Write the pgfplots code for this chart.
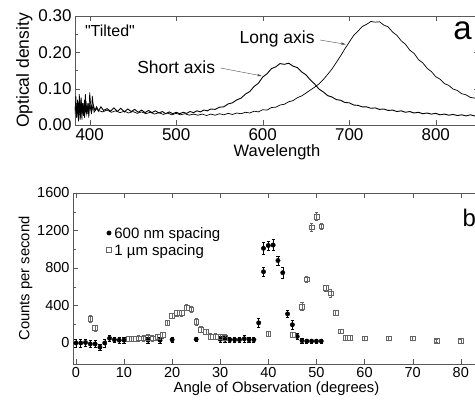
\documentclass[border=0pt]{standalone}
\usepackage{pgfplots}
\pgfplotsset{compat=1.18}
\usepackage{fontspec}
\setmainfont{Liberation Sans}[Ligatures=TeXOff]
\usetikzlibrary{arrows.meta}
\newcommand{\fs}[1]{\fontsize{#1}{#1}\selectfont}

\begin{document}
\begin{tikzpicture}[x=1pt,y=1pt]
\useasboundingbox (0,0) rectangle (475,403);
\clip (0,0) rectangle (475,403);

% (a) optical density spectra
\begin{axis}[at={(75pt,278pt)}, anchor=south west, scale only axis,
  width=404pt, height=109pt,
  xmin=383, xmax=850, ymin=0, ymax=0.30,
  xtick={400,500,...,800}, ytick={0,0.1,0.2,0.3}, minor y tick num=1,
  yticklabel style={/pgf/number format/.cd, fixed, fixed zerofill, precision=2},
  /pgf/number format/assume math mode=true,
  tick label style={font=\fs{17}},
  xlabel={Wavelength}, ylabel={Optical density},
  xlabel style={font=\fs{16.5}, yshift=3pt}, ylabel style={font=\fs{17.5}, yshift=-1pt},
  axis line style={gray!70!black}, tick style={gray!70!black},
  major tick length=5pt, minor tick length=3pt]
  % short axis
  \addplot[black, line width=0.9pt] coordinates {
   (383,0.04) (384,0.06) (385,0.02) (386,0.07) (387,0.03) (388,0.065) (389,0.015)
   (390,0.075) (391,0.03) (392,0.06) (393,0.025) (394,0.07) (395,0.035) (396,0.055)
   (397,0.03) (398,0.06) (399,0.035) (400,0.055) (402,0.035) (404,0.055) (406,0.04)
   (408,0.05) (410,0.038) (413,0.05) (416,0.04) (420,0.045) (424,0.038) (428,0.047)
   (432,0.037) (436,0.046) (440,0.036) (444,0.044) (448,0.037) (452,0.043) (456,0.035)
   (460,0.041) (464,0.034) (468,0.04) (472,0.034) (476,0.039) (480,0.033) (484,0.037)
   (488,0.031) (492,0.036) (496,0.031) (500,0.035) (504,0.031) (508,0.035) (512,0.032)
   (516,0.037) (520,0.034) (524,0.039) (528,0.036) (532,0.041) (536,0.039) (540,0.044)
   (545,0.043) (550,0.049) (555,0.05) (560,0.058) (565,0.061) (570,0.069) (575,0.074)
   (580,0.085) (585,0.092) (590,0.106) (595,0.115) (600,0.132) (605,0.141) (610,0.155)
   (615,0.16) (620,0.169) (625,0.167) (630,0.17) (635,0.162) (640,0.158) (645,0.146)
   (650,0.138) (655,0.124) (660,0.113) (665,0.099) (670,0.091) (675,0.081) (680,0.077)
   (685,0.07) (690,0.068) (695,0.062) (700,0.061) (705,0.055) (710,0.054) (715,0.05)
   (720,0.05) (725,0.046) (730,0.047) (735,0.043) (740,0.044) (745,0.04) (750,0.041)
   (755,0.037) (760,0.039) (765,0.035) (770,0.037) (775,0.033) (780,0.035) (785,0.031)
   (790,0.033) (795,0.03) (800,0.032) (805,0.028) (810,0.03) (815,0.027) (820,0.029)
   (825,0.026) (830,0.028) (835,0.025) (840,0.028) (845,0.025) (850,0.027)};
  % long axis
  \addplot[black, line width=0.7pt] coordinates {
   (383,0.03) (384,0.08) (385,0.02) (386,0.065) (387,0.01) (388,0.085) (389,0.02)
   (390,0.07) (391,0.015) (392,0.06) (394,0.02) (395,0.085) (396,0.03) (398,0.055)
   (399,0.02) (400,0.09) (402,0.03) (403,0.08) (405,0.035) (408,0.045)
   (410,0.04) (415,0.036) (420,0.041) (425,0.035) (430,0.039) (435,0.034) (440,0.038)
   (445,0.033) (450,0.037) (455,0.032) (460,0.036) (465,0.031) (470,0.035) (475,0.03)
   (480,0.034) (485,0.029) (490,0.033) (495,0.028) (500,0.032) (505,0.028) (510,0.031)
   (515,0.027) (520,0.03) (525,0.027) (530,0.03) (535,0.026) (540,0.03) (545,0.027)
   (550,0.031) (555,0.028) (560,0.032) (565,0.029) (570,0.033) (575,0.031) (580,0.035)
   (585,0.033) (590,0.038) (595,0.036) (600,0.042) (605,0.041) (610,0.048) (615,0.049)
   (620,0.055) (625,0.057) (630,0.064) (635,0.067) (640,0.075) (645,0.08) (650,0.088)
   (655,0.096) (660,0.104) (665,0.113) (670,0.125) (675,0.139) (680,0.154) (685,0.172)
   (690,0.19) (695,0.21) (700,0.228) (705,0.246) (710,0.258) (715,0.271) (720,0.277)
   (725,0.285) (730,0.283) (735,0.284) (740,0.275) (745,0.27) (750,0.256) (755,0.247)
   (760,0.232) (765,0.222) (770,0.206) (775,0.197) (780,0.18) (785,0.171) (790,0.156)
   (795,0.147) (800,0.133) (805,0.126) (810,0.114) (815,0.109) (820,0.099) (825,0.095)
   (830,0.086) (835,0.083) (840,0.076) (845,0.074) (850,0.068)};
  \node[anchor=west, font=\fs{16}] at (axis cs:390.5,0.259) {"Tilted"};
  \node[anchor=east, font=\fs{17.5}] at (axis cs:549,0.16) {Short axis};
  \draw[gray!60!black, -{Stealth[length=5pt,width=2.5pt]}] (axis cs:551,0.157) -- (axis cs:599,0.135);
  \node[anchor=east, font=\fs{17.5}] at (axis cs:664,0.238) {Long axis};
  \draw[gray!60!black, -{Stealth[length=5pt,width=2.5pt]}] (axis cs:666,0.234) -- (axis cs:696,0.222);
  \node[font=\fs{33}] at (axis cs:831,0.26) {a};
\end{axis}

% (b) counts vs angle
\begin{axis}[at={(73pt,39pt)}, anchor=south west, scale only axis,
  width=407pt, height=171pt,
  xmin=-0.6, xmax=84, ymin=-224, ymax=1600,
  xtick={0,10,...,80}, ytick={0,400,800,1200,1600}, minor y tick num=1,
  yticklabel style={/pgf/number format/1000 sep={}},
  /pgf/number format/assume math mode=true,
  tick label style={font=\fs{14.5}},
  xlabel={Angle of Observation (degrees)}, ylabel={Counts per second},
  xlabel style={font=\fs{14.8}, yshift=3pt},
  ylabel style={font=\fs{14.8}, yshift=-2pt},
  axis line style={gray!70!black}, tick style={gray!70!black},
  major tick length=5pt, minor tick length=3pt,
  legend style={draw=none, fill=none, at={(0.082,0.805)}, anchor=north west,
    font=\fs{15}, row sep=4pt, inner sep=0pt,
    nodes={inner sep=1pt, text depth=0pt}},
  legend cell align=left]
  \addplot[only marks, mark=*, mark size=2.2pt, black,
    error bars/.cd, y dir=both, y explicit, error bar style={line width=0.5pt},
    error mark options={rotate=90, mark size=1.6pt}]
    table[x=x, y=y, y error=e] {
    x y e
    0 0 40
    1 0 40
    2 5 40
    3 -10 35
    4 -10 35
    5 -45 35
    6 0 40
    7 50 30
    8 35 30
    9 30 30
    10 30 30
    15 30 30
    17.5 30 30
    20 35 25
    25 40 25
    30 40 30
    31 40 30
    32 35 25
    33 35 25
    34 35 25
    35 45 40
    36 35 30
    37 35 30
    38 215 45
    39 760 50
    39 1010 60
    40 1040 50
    41 1045 60
    42 880 45
    43 750 60
    44 310 40
    45 195 45
    46 70 30
    47 25 25
    48 20 20
    49 20 20
    50 20 20
    51 20 20
  };
  \addlegendentry{\hspace{2pt}600 nm spacing}
  \addplot[only marks, mark=square, mark size=2.4pt, gray!80!black, line width=0.5pt,
    error bars/.cd, y dir=both, y explicit, error bar style={line width=0.5pt},
    error mark options={rotate=90, mark size=1.6pt}]
    table[x=x, y=y, y error=e] {
    x y e
    3 260 40
    4 160 35
    11 45 30
    12 45 30
    13 50 30
    14 50 30
    15 55 35
    16 50 30
    17 65 30
    18 85 30
    19 215 30
    20 290 30
    21 320 35
    22 320 35
    23 380 35
    24 360 35
    25 225 40
    26 145 35
    27 120 30
    28 70 30
    29 70 30
    30 65 30
    31 60 30
    40 100 30
    45 90 30
    47 390 40
    48 680 30
    49 1235 40
    50 1350 45
    51 1245 35
    52 585 30
    53 530 40
    54 320 25
    55 125 25
    56 60 25
    57 60 25
    60 50 25
    65 50 20
    70 50 25
    75 25 20
    80 20 20
  };
  \addlegendentry{\hspace{2pt}1 µm spacing}
  \node[font=\fs{24}] at (axis cs:81.8,1330) {b};
\end{axis}
\end{tikzpicture}
\end{document}
